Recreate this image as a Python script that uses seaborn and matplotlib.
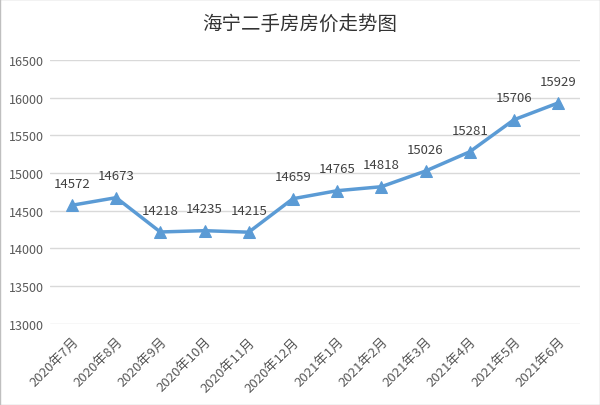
import seaborn as sns
import matplotlib.pyplot as plt
import pandas as pd

months = ['2020年7月', '2020年8月', '2020年9月', '2020年10月', '2020年11月', '2020年12月',
          '2021年1月', '2021年2月', '2021年3月', '2021年4月', '2021年5月', '2021年6月']
prices = [14572, 14673, 14218, 14235, 14215, 14659, 14765, 14818, 15026, 15281, 15706, 15929]
yticks = list(range(13000, 16501, 500))

df = pd.DataFrame({'month': months, 'price': prices})

sns.set_theme(style='white')
plt.rcParams['font.family'] = ['Noto Sans CJK SC', 'DejaVu Sans']

fig = plt.figure(figsize=(6, 4.06), dpi=100)
ax = fig.add_axes([0.083, 0.2, 0.884, 0.65])

sns.lineplot(data=df, x='month', y='price', ax=ax, color='#5B9BD5', linewidth=2.5,
             marker='^', markersize=8, markeredgecolor='#5B9BD5', sort=False)

for i, v in enumerate(prices):
    ax.annotate(str(v), (i, v), xytext=(0, 11), textcoords='offset points',
                ha='center', va='bottom', fontsize=9.5, color='#404040')

ax.set_xlim(-0.5, len(months) - 0.5)
ax.set_ylim(13000, 16500)
ax.set_yticks(yticks)
ax.yaxis.grid(True, color='#D9D9D9', linewidth=1)
ax.set_axisbelow(True)
for s in ax.spines.values():
    s.set_visible(False)
ax.set_xlabel('')
ax.set_ylabel('')
ax.tick_params(axis='y', labelsize=9, colors='#595959', length=0, pad=4)
ax.tick_params(axis='x', labelsize=9.5, colors='#595959', length=0, pad=8)
plt.setp(ax.get_xticklabels(), rotation=45, ha='right', rotation_mode='anchor')

fig.suptitle('海宁二手房房价走势图', y=0.965, fontsize=14, color='#333333')
fig.patches.append(plt.Rectangle((0, 0), 1, 1, transform=fig.transFigure,
                                 fill=False, edgecolor='#BFBFBF', linewidth=1))

fig.savefig('out.png', dpi=100)
